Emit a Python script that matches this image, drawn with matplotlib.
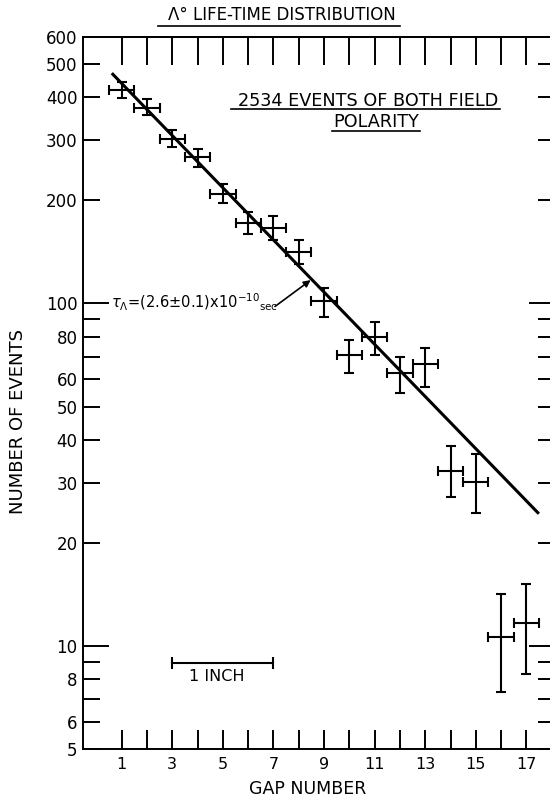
import matplotlib
matplotlib.use("Agg")
import matplotlib.pyplot as plt
from matplotlib.ticker import FixedLocator, FuncFormatter, NullLocator
from matplotlib.lines import Line2D

# data
gap = list(range(1, 18))
counts = [420, 372, 303, 267, 209, 172, 166, 141, 102, 70.5, 79.8, 62.6, 66.6, 32.5, 30.2, 10.6, 11.7]
upper = [442, 395, 322, 283, 223, 185, 180, 153, 111, 78.3, 88, 70, 74.3, 38.4, 36.4, 14.2, 15.2]
lower = [399, 355, 286, 250, 196, 160, 153, 130, 91, 62.6, 70.5, 54.7, 57.2, 27.2, 24.5, 7.36, 8.26]
gap_halfwidth = 0.5

fit_x = [0.65, 17.45]
fit_y = [467, 24.5]

y_labeled = [600, 500, 400, 300, 200, 80, 60, 50, 40, 30, 20, 8, 6, 5]
y_unlabeled = [90, 70, 9, 7]
y_long = [10, 100]
x_labels = [1, 3, 5, 7, 9, 11, 13, 15, 17]

plt.rcParams['font.family'] = ['DejaVu Sans']

fig = plt.figure(figsize=(5.5, 7.98), dpi=100)
ax = fig.add_axes([83 / 550, 49 / 798, 472 / 550, 712 / 798])
ax.set_yscale('log')
ax.set_xlim(-0.53, 18.13)
ax.set_ylim(5, 600)

for s in ax.spines.values():
    s.set_linewidth(1.4)

# error crosses
yerr = [[c - l for c, l in zip(counts, lower)], [u - c for c, u in zip(counts, upper)]]
ax.errorbar(gap, counts, yerr=yerr, xerr=gap_halfwidth, fmt='none', ecolor='black',
            elinewidth=1.5, capsize=3.5, capthick=1.5)

# fitted exponential
ax.plot(fit_x, fit_y, color='black', lw=2.2)

# y ticks: long ones at 10 and 100, normal elsewhere
ax.yaxis.set_major_locator(FixedLocator(y_long))
ax.yaxis.set_major_formatter(FuncFormatter(lambda v, p: '%g' % v))
minor = sorted(y_labeled + y_unlabeled)
ax.yaxis.set_minor_locator(FixedLocator(minor))
ax.yaxis.set_minor_formatter(FuncFormatter(
    lambda v, p: ('%g' % v) if round(v) in y_labeled else ''))
ax.tick_params(axis='y', which='major', direction='in', length=19, width=1.4,
               right=True, labelsize=12, pad=4)
ax.tick_params(axis='y', which='minor', direction='in', length=12, width=1.4,
               right=True, labelsize=12, pad=4)

# x ticks
ax.set_xticks(gap)
ax.set_xticklabels([str(g) if g in x_labels else '' for g in gap])
ax.tick_params(axis='x', which='major', direction='in', length=13.5, width=1.4,
               labelsize=11.5, pad=6)
ax.xaxis.set_minor_locator(NullLocator())

top = ax.secondary_xaxis('top')
top.set_xticks(gap)
top.tick_params(direction='in', length=20, width=1.4, labeltop=False)
top.spines['top'].set_linewidth(1.4)

ax.set_ylabel('NUMBER OF EVENTS', fontsize=13)
ax.yaxis.set_label_coords(-0.118, 0.46)
ax.set_xlabel('GAP NUMBER', fontsize=12.5)
ax.xaxis.set_label_coords(0.477, -0.044)

# lifetime annotation
ax.text(0.58, 101, r'$\tau_{\Lambda}$=(2.6$\pm$0.1)x10$^{-10}$$\mathrm{_{sec}}$',
        fontsize=10.5, ha='left', va='center')
ax.annotate('', xy=(8.47, 117), xytext=(7.06, 98),
            arrowprops=dict(arrowstyle='-|>', color='black', lw=1.2,
                            shrinkA=0, shrinkB=0, mutation_scale=10))

# scale bar
ax.plot([3, 7], [8.9, 8.9], color='black', lw=1.5, marker='|', ms=8, mew=1.5)
ax.text(4.75, 8.15, '1 INCH', fontsize=11.5, ha='center', va='center')

# captions with underlines
fig.text(282 / 550, 1 - 15.5 / 798, u'\u039b\u00b0 LIFE-TIME DISTRIBUTION',
         fontsize=12, ha='center', va='center')
fig.add_artist(Line2D([158 / 550, 400 / 550], [1 - 26 / 798, 1 - 26 / 798],
                      color='black', lw=1.2))
fig.text(368 / 550, 1 - 101 / 798, '2534 EVENTS OF BOTH FIELD',
         fontsize=12.7, ha='center', va='center')
fig.add_artist(Line2D([231 / 550, 500 / 550], [1 - 109 / 798, 1 - 109 / 798],
                      color='black', lw=1.2))
fig.text(376 / 550, 1 - 122 / 798, 'POLARITY', fontsize=12.7, ha='center', va='center')
fig.add_artist(Line2D([332 / 550, 420 / 550], [1 - 131 / 798, 1 - 131 / 798],
                      color='black', lw=1.2))

fig.savefig('out.png', dpi=100)
